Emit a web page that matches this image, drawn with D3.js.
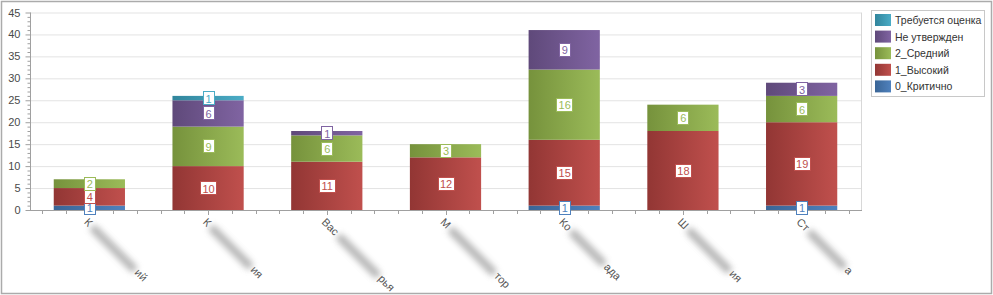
<!DOCTYPE html>
<html>
<head>
<meta charset="utf-8">
<script src="https://cdn.jsdelivr.net/npm/d3@7"></script>
<style>
  body { margin: 0; background: #fff; }
  svg { display: block; font-family: "Liberation Sans", Arial, sans-serif; }
</style>
</head>
<body>
<svg id="chart"></svg>
<script>
// categories (names are redacted in the source, only first / last letters readable)
const labelStart = ["К", "К", "Вас", "М", "Ко", "Ш", "Ст"];
const labelEnd = ["ий", "ия", "рья", "тор", "ада", "ия", "а"];
const hiddenLen = [62, 58, 58, 64, 48, 60, 52];

const seriesNames = ["0_Критично", "1_Высокий", "2_Средний", "Не утвержден", "Требуется оценка"];
const critical = [1, 0, 0, 0, 1, 0, 1];
const high = [4, 10, 11, 12, 15, 18, 19];
const medium = [2, 9, 6, 3, 16, 6, 6];
const notApproved = [0, 6, 1, 0, 9, 0, 3];
const needsReview = [0, 1, 0, 0, 0, 0, 0];

const yTicks = [0, 5, 10, 15, 20, 25, 30, 35, 40, 45];

const colorsDark = ["#3a6596", "#923634", "#76923c", "#5f497a", "#31859c"];
const colorsLight = ["#4f81bd", "#c0504d", "#9bbb59", "#8064a2", "#4bacc6"];

const width = 993, height = 295;
const margins = { top: 12.5, right: 132, bottom: 85, left: 30 };

const svg = d3.select("#chart").attr("width", width).attr("height", height);

const table = labelStart.map((s, i) => ({
    idx: i,
    s0: critical[i], s1: high[i], s2: medium[i], s3: notApproved[i], s4: needsReview[i]
}));
const keys = ["s0", "s1", "s2", "s3", "s4"];
const stacked = d3.stack().keys(keys)(table);

const xScale = d3.scaleBand()
    .domain(d3.range(labelStart.length))
    .range([margins.left, width - margins.right])
    .paddingInner(0.4).paddingOuter(0.2);
const bandStep = xScale.step();

const yScale = d3.scaleLinear().domain([0, 45]).range([height - margins.bottom, margins.top]);
const y0 = yScale(0);
const plotLeft = margins.left, plotRight = width - margins.right;

// outer frame
svg.append("rect").attr("x", 1.5).attr("y", 1.5).attr("width", width - 3).attr("height", height - 3)
    .attr("fill", "none").attr("stroke", "#ababab").attr("stroke-width", 1.5);

// gradients
const defs = svg.append("defs");
keys.forEach((k, i) => {
    const g = defs.append("linearGradient").attr("id", "grad" + i)
        .attr("x1", "0%").attr("x2", "100%").attr("y1", "0%").attr("y2", "0%");
    g.append("stop").attr("offset", "0%").attr("stop-color", colorsDark[i]);
    g.append("stop").attr("offset", "100%").attr("stop-color", colorsLight[i]);
});
const blur = defs.append("filter").attr("id", "blur").attr("x", "-50%").attr("y", "-100%")
    .attr("width", "200%").attr("height", "300%");
blur.append("feGaussianBlur").attr("stdDeviation", 3);

// gridlines
svg.append("g").selectAll("line").data(yTicks.filter(d => d > 0)).join("line")
    .attr("x1", plotLeft).attr("x2", plotRight)
    .attr("y1", d => yScale(d) + 0.5).attr("y2", d => yScale(d) + 0.5)
    .attr("stroke", "#e3e3e3");
svg.append("line").attr("x1", plotRight + 0.5).attr("x2", plotRight + 0.5)
    .attr("y1", yScale(45)).attr("y2", y0).attr("stroke", "#d8d8d8");

// bars
const layers = svg.append("g").selectAll("g").data(stacked).join("g")
    .attr("fill", (d, i) => `url(#grad${i})`);
layers.selectAll("rect").data(d => d.filter(p => p[1] > p[0])).join("rect")
    .attr("x", d => xScale(d.data.idx))
    .attr("width", xScale.bandwidth())
    .attr("y", d => yScale(d[1]))
    .attr("height", d => yScale(d[0]) - yScale(d[1]));

// y axis
const yAxis = svg.append("g").attr("transform", `translate(${plotLeft + 0.5},0)`);
yAxis.append("line").attr("y1", yScale(45)).attr("y2", y0).attr("stroke", "#a0a0a0");
yAxis.selectAll("line.minor").data(d3.range(0, 46)).join("line").attr("class", "minor")
    .attr("x1", d => d % 5 === 0 ? -5 : -3).attr("x2", 0)
    .attr("y1", d => yScale(d) + 0.5).attr("y2", d => yScale(d) + 0.5)
    .attr("stroke", "#a0a0a0");
yAxis.selectAll("text").data(yTicks).join("text")
    .attr("x", -10).attr("y", d => yScale(d) + 4)
    .attr("text-anchor", "end").attr("font-size", 11).attr("fill", "#4a4a4a")
    .text(d => d);

// x axis
const xAxis = svg.append("g");
xAxis.append("line").attr("x1", plotLeft).attr("x2", plotRight + 1)
    .attr("y1", y0 + 0.5).attr("y2", y0 + 0.5).attr("stroke", "#a0a0a0");
const xTickData = [];
labelStart.forEach((s, i) => {
    const c = xScale(i) + xScale.bandwidth() / 2;
    for (let k = -2; k <= 2; k++) xTickData.push({ x: c + k * bandStep / 5, major: k === 0 });
});
xAxis.selectAll("line.t").data(xTickData).join("line").attr("class", "t")
    .attr("x1", d => Math.round(d.x) + 0.5).attr("x2", d => Math.round(d.x) + 0.5)
    .attr("y1", y0).attr("y2", d => y0 + (d.major ? 5 : 4))
    .attr("stroke", "#a0a0a0");

// category labels (rotated)
labelStart.forEach((s, i) => {
    const c = xScale(i) + xScale.bandwidth() / 2;
    const g = svg.append("g").attr("transform", `translate(${c - 3},${y0 + 10}) rotate(45)`);
    const t1 = g.append("text").attr("x", 0).attr("y", 4).attr("font-size", 11)
        .attr("fill", "#555").text(s);
    const w1 = t1.node().getComputedTextLength();
    g.append("rect").attr("x", w1 + 2).attr("y", -3).attr("width", hiddenLen[i]).attr("height", 8)
        .attr("rx", 4).attr("fill", "#9a9a9a").attr("opacity", 0.75).attr("filter", "url(#blur)");
    g.append("text").attr("x", w1 + hiddenLen[i] + 3).attr("y", 4).attr("font-size", 11)
        .attr("fill", "#555").text(labelEnd[i]);
});

// value labels
const valueLabels = svg.append("g");
stacked.forEach((layer, si) => {
    layer.filter(p => p[1] > p[0]).forEach(p => {
        const v = p[1] - p[0];
        const cx = xScale(p.data.idx) + xScale.bandwidth() / 2;
        const cy = (yScale(p[0]) + yScale(p[1])) / 2;
        const w = String(v).length > 1 ? 16 : 11;
        valueLabels.append("rect")
            .attr("x", Math.round(cx - w / 2) + 0.5).attr("y", Math.round(cy - 7) + 0.5)
            .attr("width", w).attr("height", 13)
            .attr("fill", "#fff").attr("stroke", colorsLight[si]).attr("stroke-width", 1);
        valueLabels.append("text")
            .attr("x", cx + 0.5).attr("y", cy + 4.5)
            .attr("text-anchor", "middle").attr("font-size", 11)
            .attr("fill", colorsLight[si]).text(v);
    });
});

// legend
const legend = svg.append("g");
legend.append("rect").attr("x", 871.5).attr("y", 10.5).attr("width", 113).attr("height", 86)
    .attr("fill", "#fff").attr("stroke", "#c8c8c8");
const legendOrder = [4, 3, 2, 1, 0];
legendOrder.forEach((si, row) => {
    const y = 20 + row * 16.6;
    legend.append("rect").attr("x", 875).attr("y", y - 6).attr("width", 16).attr("height", 12)
        .attr("fill", `url(#grad${si})`);
    legend.append("text").attr("x", 895).attr("y", y + 4).attr("font-size", 10.5)
        .attr("fill", "#333").text(seriesNames[si]);
});
</script>
</body>
</html>
